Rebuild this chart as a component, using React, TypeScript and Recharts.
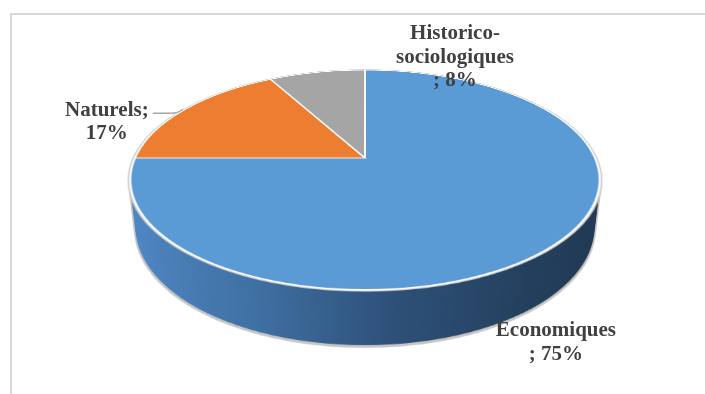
import React from 'react';
import { PieChart, Pie, Cell } from 'recharts';

// ---------- data ----------
const categories = ['Economiques', 'Naturels', 'Historico-sociologiques'];
const values = [75, 17, 8];
const topColors = ['#5B9BD5', '#ED7D31', '#A5A5A5'];
const sideSolid = ['#2E5A86', '#A95A24', '#777777'];

const data = categories.map((name, i) => ({ name, value: values[i] }));
const total = values.reduce((a, b) => a + b, 0);
const pct = values.map((v) => Math.round((v / total) * 100));
const labelLines: string[][] = [
  [categories[0], `; ${pct[0]}%`],
  [`${categories[1]};`, `${pct[1]}%`],
  [`${categories[2].split('-')[0]}-`, categories[2].split('-')[1], `; ${pct[2]}%`],
];

// ---------- 3D geometry (layout) ----------
const X0 = 364.5; // apex x on screen
const Y0 = 158; // apex y on screen
const R = 230;
const P = 1021; // perspective distance
const TILT = 62.7; // degrees
const DEPTH = 55;
const S = 500;
const TR = (TILT * Math.PI) / 180;
const SIN = Math.sin(TR);
const COS = Math.cos(TR);

function project(angleDeg: number, depth = 0) {
  const a = (angleDeg * Math.PI) / 180;
  const x = R * Math.cos(a);
  const y = -R * Math.sin(a);
  const yy = COS * y + SIN * depth;
  const zz = SIN * y - COS * depth;
  const k = P / (P - zz);
  return { x: X0 + x * k, y: Y0 + yy * k };
}

const labelOffsets = [
  { dx: 2, dy: 91.5 },
  { dx: -78, dy: 6.3 },
  { dx: 138.4, dy: -33.3 },
];
const LINE_H = 23.5;

const layerStyle = (depth: number): React.CSSProperties => ({
  position: 'absolute',
  left: X0 - S / 2,
  top: Y0 - S / 2,
  width: S,
  height: S,
  transformOrigin: '50% 50%',
  transform: `perspective(${P}px) rotateX(${TILT}deg) translateZ(${-depth}px)`,
});

const margin0 = { top: 0, right: 0, bottom: 0, left: 0 };

function HaloLayer({ depth }: { depth: number }) {
  return (
    <div style={layerStyle(depth)}>
      <PieChart width={S} height={S} margin={margin0}>
        <Pie
          data={[{ name: 'all', value: total }]}
          dataKey="value"
          cx="50%"
          cy="50%"
          outerRadius={R + 1.6}
          fill="#C6C6C6"
          stroke="none"
          isAnimationActive={false}
        />
      </PieChart>
    </div>
  );
}

function SideLayer({ depth, idx }: { depth: number; idx: number }) {
  const gid = `sideGrad${idx}`;
  return (
    <div style={layerStyle(depth)}>
      <PieChart width={S} height={S} margin={margin0}>
        <defs>
          <linearGradient id={gid} x1="0" y1="0" x2="1" y2="0">
            <stop offset="0" stopColor="#5089C7" />
            <stop offset="0.3" stopColor="#3F70A3" />
            <stop offset="0.55" stopColor="#2D5078" />
            <stop offset="0.8" stopColor="#233F5D" />
            <stop offset="1" stopColor="#1F3752" />
          </linearGradient>
        </defs>
        <Pie
          data={data}
          dataKey="value"
          cx="50%"
          cy="50%"
          outerRadius={R}
          startAngle={90}
          endAngle={-270}
          stroke="none"
          isAnimationActive={false}
        >
          {data.map((d, i) => (
            <Cell key={d.name} fill={i === 0 ? `url(#${gid})` : sideSolid[i]} />
          ))}
        </Pie>
      </PieChart>
    </div>
  );
}

function TopLayer() {
  return (
    <div style={layerStyle(0)}>
      <PieChart width={S} height={S} margin={margin0}>
        <Pie
          data={[{ name: 'all', value: total }]}
          dataKey="value"
          cx="50%"
          cy="50%"
          outerRadius={R + 2.6}
          fill="#CFCFCF"
          stroke="none"
          isAnimationActive={false}
        />
        <Pie
          data={data}
          dataKey="value"
          cx="50%"
          cy="50%"
          outerRadius={R}
          startAngle={90}
          endAngle={-270}
          stroke="#FFFFFF"
          strokeWidth={2}
          isAnimationActive={false}
        >
          {data.map((d, i) => (
            <Cell key={d.name} fill={topColors[i]} />
          ))}
        </Pie>
      </PieChart>
    </div>
  );
}

const renderLabel = (props: any) => {
  const { index, midAngle } = props;
  const p = project(midAngle);
  const off = labelOffsets[index];
  const x = p.x + off.dx;
  const y0 = p.y + off.dy;
  const lines = labelLines[index];
  return (
    <g key={`lbl-${index}`}>
      {index === 1 && (
        <path
          d={`M ${p.x - 32} ${p.y + 4} L ${p.x - 14} ${p.y + 4} Q ${p.x - 7} ${p.y + 4} ${p.x - 2} ${p.y}`}
          fill="none"
          stroke="#A6A6A6"
          strokeWidth={1.3}
        />
      )}
      <text
        textAnchor="middle"
        fontFamily="'Liberation Serif', 'Times New Roman', serif"
        fontWeight="bold"
        fontSize={21}
        fill="#404040"
      >
        {lines.map((t, j) => (
          <tspan key={j} x={x} y={y0 + j * LINE_H}>
            {t}
          </tspan>
        ))}
      </text>
    </g>
  );
};

export default function App() {
  const haloDepths: number[] = [];
  for (let d = DEPTH + 1.6; d >= 0; d -= 2) haloDepths.push(d);
  const sideDepths: number[] = [];
  for (let d = DEPTH; d > 0; d -= 1.25) sideDepths.push(d);

  return (
    <div
      style={{
        position: 'fixed',
        left: 0,
        top: 0,
        width: 705,
        height: 394,
        background: '#FFFFFF',
        overflow: 'hidden',
      }}
    >
      <div
        style={{
          position: 'absolute',
          left: 10,
          top: 13,
          width: 760,
          height: 460,
          border: '2px solid #D9D9D9',
        }}
      />
      {haloDepths.map((d, i) => (
        <HaloLayer key={`h${i}`} depth={d} />
      ))}
      {sideDepths.map((d, i) => (
        <SideLayer key={`s${i}`} depth={d} idx={i} />
      ))}
      <TopLayer />
      <div style={{ position: 'absolute', left: 0, top: 0, width: 705, height: 394, pointerEvents: 'none' }}>
        <PieChart width={705} height={394} margin={margin0}>
          <Pie
            data={data}
            dataKey="value"
            cx={X0}
            cy={Y0}
            outerRadius={R}
            startAngle={90}
            endAngle={-270}
            fill="transparent"
            stroke="none"
            label={renderLabel}
            labelLine={false}
            isAnimationActive={false}
          />
        </PieChart>
      </div>
    </div>
  );
}
